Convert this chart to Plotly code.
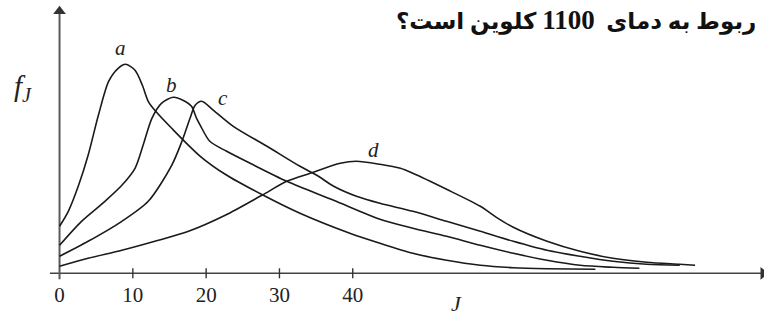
import plotly.graph_objects as go

# ---- data (J, f_J in arbitrary units) ----
a_J = [0, 1.2, 2.6, 3.9, 5.3, 6.7, 8.0, 9.0, 10.3, 11.3, 12.1, 13.0, 15.3, 19.2, 22.6, 27.8, 32.8, 39.6, 43.7, 48.2, 52.8, 57.4, 61.9, 66.5, 73.1]
a_f = [47, 62, 88, 118, 158, 192, 205, 209, 203, 188, 172, 163, 145, 117, 99, 78, 60, 40, 30, 20, 13, 8, 5.6, 4.6, 4]

b_J = [0, 3.0, 6.2, 8.5, 10.3, 11.4, 12.6, 13.9, 15.5, 17.1, 18.0, 18.7, 19.2, 20.5, 22.8, 26.0, 31.0, 37.4, 43.7, 48.2, 52.8, 57.4, 61.9, 66.5, 71.0, 75.5, 79.1]
b_f = [28, 52, 72, 88, 105, 128, 155, 170, 176, 172, 167, 155, 148, 132, 122, 110, 92, 73, 54, 45, 37, 28, 20, 13, 8, 6, 5]

c_J = [0, 3.9, 8.5, 12.1, 15.3, 16.7, 17.8, 18.5, 19.4, 21.0, 23.7, 28.3, 32.8, 35.1, 37.4, 40.5, 43.7, 48.2, 52.8, 57.4, 61.9, 66.5, 71.0, 75.5, 80.1, 84.6]
c_f = [17, 32, 52, 72, 108, 132, 155, 168, 172, 163, 147, 127, 107, 98, 87, 77, 70, 62, 52, 42, 32, 23, 17, 12, 9, 8]

d_J = [0, 3.9, 8.5, 13.0, 17.6, 22.6, 27.6, 31.0, 34.2, 38.3, 40.5, 43.7, 46.5, 48.2, 52.8, 57.4, 59.6, 61.9, 66.5, 71.0, 75.5, 80.1, 84.6, 86.7]
d_f = [7, 15, 23, 32, 42, 58, 78, 92, 100, 110, 112, 109, 105, 100, 84, 67, 56, 46, 32, 22, 15, 11, 9, 8]

curve_names = ["a", "b", "c", "d"]
label_J = [8.35, 15.3, 22.3, 42.8]
label_f = [225, 188, 175, 123]

tick_vals = [0, 10, 20, 30, 40]
tick_text = ["0", "10", "20", "30", "40"]

title_words = ["ربوط", "به", "دمای", " <span style='font-size:27px'>1100</span>", "کلوین", "است؟"]

# axis extents (in data units)
X_MIN, X_MAX = -1.3, 96.0
Y_MIN, Y_MAX = -6.0, 262.0

fig = go.Figure()

# axes
fig.add_trace(go.Scatter(x=[X_MIN, X_MAX], y=[0, 0], mode="lines",
                         line=dict(color="#444", width=1.6), hoverinfo="skip", showlegend=False))
fig.add_trace(go.Scatter(x=[0, 0], y=[Y_MIN, Y_MAX], mode="lines",
                         line=dict(color="#5a5a5a", width=2), hoverinfo="skip", showlegend=False))
fig.add_trace(go.Scatter(x=[X_MAX], y=[0], mode="markers", cliponaxis=False,
                         marker=dict(symbol="triangle-right", size=11, color="#333"),
                         hoverinfo="skip", showlegend=False))
fig.add_trace(go.Scatter(x=[0], y=[Y_MAX], mode="markers", cliponaxis=False,
                         marker=dict(symbol="triangle-up", size=11, color="#333"),
                         hoverinfo="skip", showlegend=False))

for J, f in [(a_J, a_f), (b_J, b_f), (c_J, c_f), (d_J, d_f)]:
    fig.add_trace(go.Scatter(x=J, y=f, mode="lines",
                             line=dict(color="#1a1a1a", width=1.6, shape="spline", smoothing=0.8),
                             hoverinfo="skip", showlegend=False))

# tick marks crossing the axis, built from tick values
tx, ty = [], []
for t in tick_vals[1:]:
    tx += [t, t, None]
    ty += [-5, 5, None]
fig.add_trace(go.Scatter(x=tx, y=ty, mode="lines", line=dict(color="#333", width=1.4),
                         hoverinfo="skip", showlegend=False))

serif = "Liberation Serif, Times New Roman, serif"

for n, lj, lf in zip(curve_names, label_J, label_f):
    fig.add_annotation(x=lj, y=lf, xref="x", yref="y", text="<i>%s</i>" % n, showarrow=False,
                       font=dict(family=serif, size=21, color="#222"))

fig.add_annotation(x=-0.038, y=0.70, xref="paper", yref="paper", xanchor="center", yanchor="middle",
                   text="<i>f</i><sub><i>J</i></sub>",
                   showarrow=False, font=dict(family=serif, size=29, color="#222"))
fig.add_annotation(x=0.57, y=-0.085, xref="paper", yref="paper", xanchor="center", yanchor="middle",
                   text="<i>J</i>",
                   showarrow=False, font=dict(family=serif, size=22, color="#222"))
fig.add_annotation(x=0.992, y=0.945, xref="paper", yref="paper", xanchor="right", yanchor="middle",
                   text="<b>" + " ".join(title_words) + "</b>", showarrow=False,
                   font=dict(family="Liberation Serif, DejaVu Sans", size=23, color="#111"))

fig.update_xaxes(range=[-1.3, 96.1], showgrid=False, zeroline=False, showline=False,
                 tickvals=tick_vals, ticktext=tick_text, ticks="",
                 tickfont=dict(family=serif, size=21, color="#222"))
fig.update_yaxes(range=[-6.7, 268.3], showgrid=False, zeroline=False, showline=False,
                 showticklabels=False, ticks="")

fig.update_layout(width=764, height=320, margin=dict(l=50, r=0, t=5, b=40),
                  plot_bgcolor="white", paper_bgcolor="white")

fig.write_html("out.html", config={"displayModeBar": False},
               post_script="document.body.style.margin='0px';")
